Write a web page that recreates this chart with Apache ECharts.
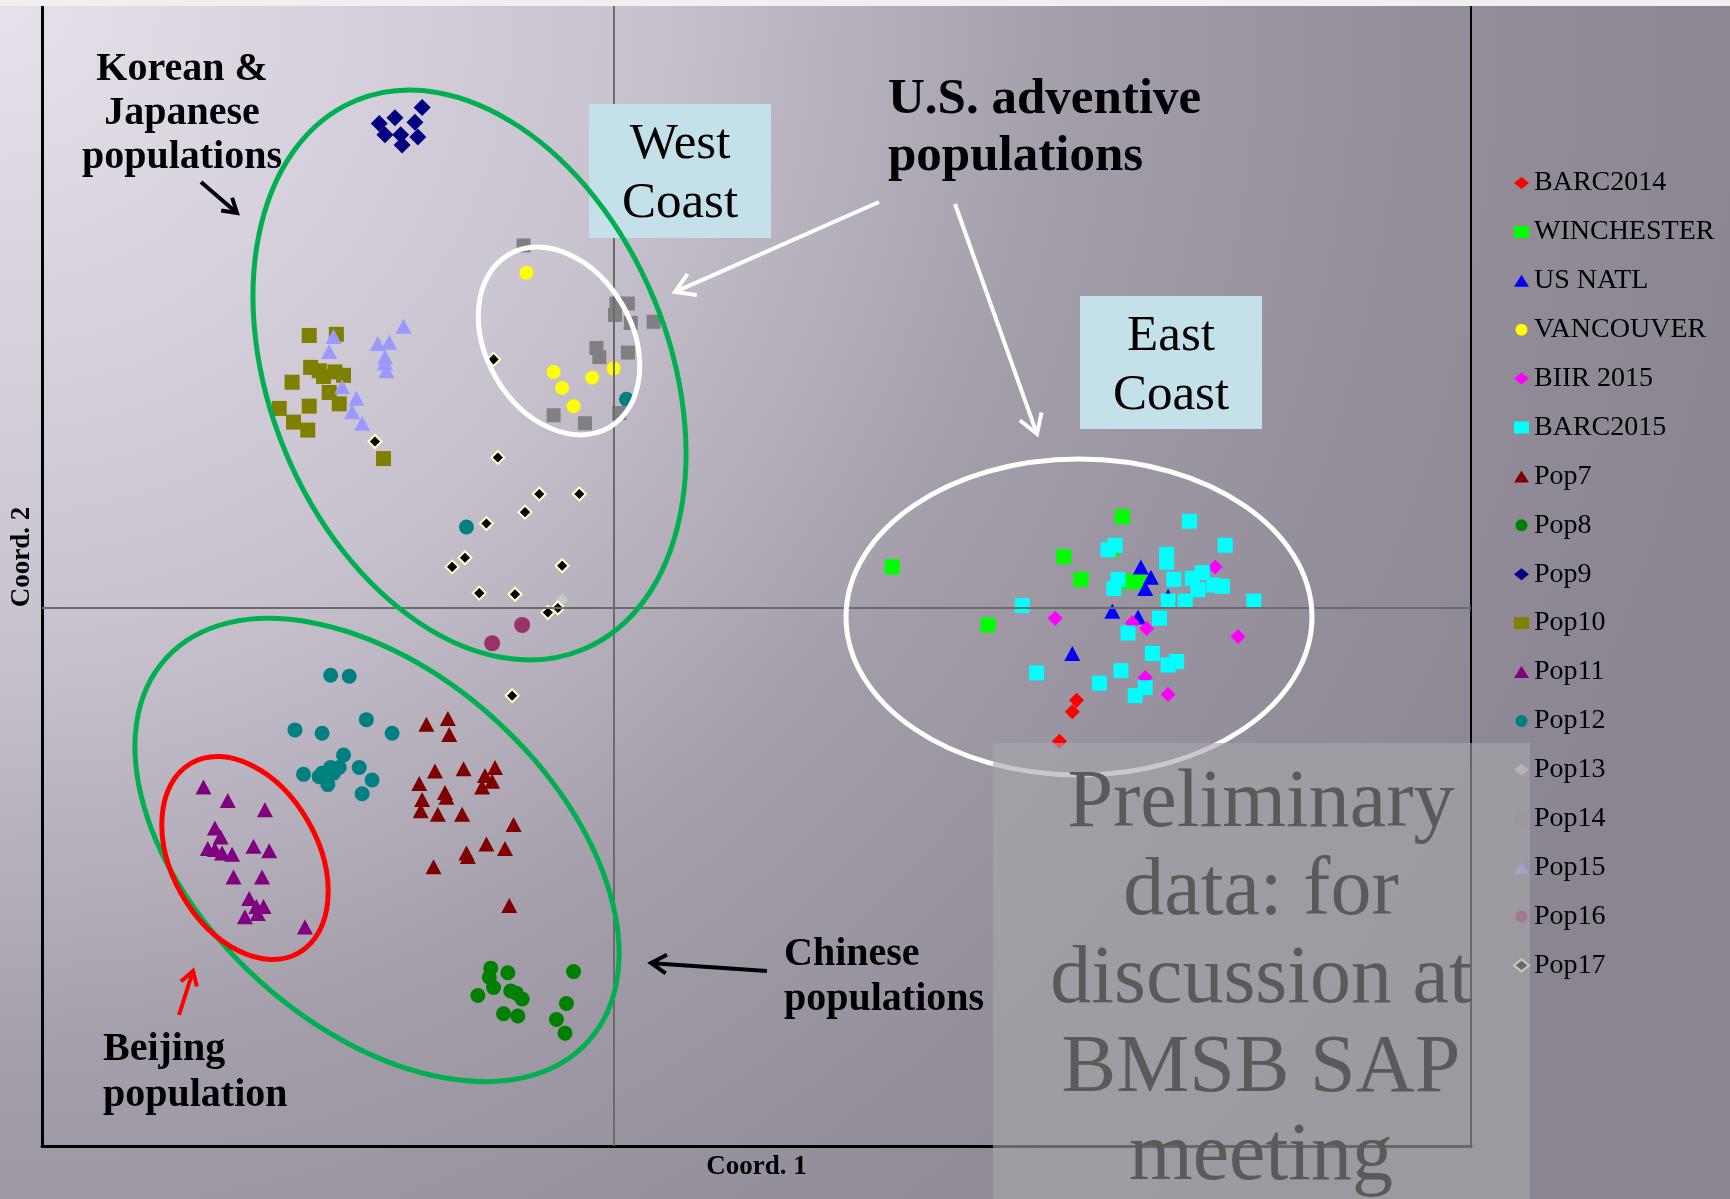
<!DOCTYPE html>
<html>
<head>
<meta charset="utf-8">
<script src="https://cdn.jsdelivr.net/npm/echarts@6/dist/echarts.min.js"></script>
<style>
  html, body { margin: 0; padding: 0; background: #ffffff; }
  #chart { width: 1730px; height: 1199px; }
</style>
</head>
<body>
<div id="chart"></div>
<script>
// PCoA scores per population: [Coord. 1, Coord. 2]
const BARC2014 = [[0.324,-0.081],[0.321,-0.091],[0.312,-0.117]];
const WINCHESTER = [[0.195,0.036],[0.315,0.045],[0.327,0.025],[0.262,-0.015],[0.356,0.080],[0.348,0.051],[0.360,0.023],[0.367,0.023]];
const US_NATL = [[0.369,0.036],[0.376,0.027],[0.372,0.017],[0.349,-0.003],[0.367,-0.008],[0.388,0.010],[0.321,-0.040]];
const VANCOUVER = [[-0.061,0.294],[-0.042,0.207],[-0.036,0.193],[-0.028,0.177],[-0.015,0.202],[0.000,0.210]];
const BIIR_2015 = [[0.421,0.036],[0.309,-0.009],[0.363,-0.013],[0.373,-0.018],[0.437,-0.025],[0.372,-0.061],[0.388,-0.076]];
const BARC2015 = [[0.403,0.076],[0.428,0.055],[0.351,0.055],[0.346,0.051],[0.387,0.047],[0.387,0.040],[0.392,0.025],[0.405,0.026],[0.412,0.031],[0.420,0.020],[0.426,0.019],[0.409,0.016],[0.353,0.025],[0.350,0.017],[0.388,0.006],[0.400,0.006],[0.448,0.006],[0.286,0.002],[0.382,-0.009],[0.360,-0.022],[0.377,-0.040],[0.388,-0.050],[0.394,-0.047],[0.296,-0.057],[0.355,-0.055],[0.340,-0.066],[0.372,-0.070],[0.365,-0.077]];
const POP7 = [[-0.131,-0.102],[-0.116,-0.097],[-0.115,-0.111],[-0.125,-0.143],[-0.105,-0.141],[-0.090,-0.147],[-0.083,-0.140],[-0.085,-0.152],[-0.092,-0.157],[-0.136,-0.154],[-0.118,-0.162],[-0.117,-0.166],[-0.134,-0.168],[-0.135,-0.178],[-0.123,-0.181],[-0.106,-0.181],[-0.070,-0.190],[-0.089,-0.207],[-0.076,-0.211],[-0.103,-0.215],[-0.102,-0.218],[-0.126,-0.227],[-0.073,-0.261]];
const POP8 = [[-0.086,-0.316],[-0.087,-0.324],[-0.084,-0.333],[-0.074,-0.320],[-0.095,-0.340],[-0.072,-0.336],[-0.068,-0.338],[-0.064,-0.343],[-0.077,-0.356],[-0.067,-0.358],[-0.028,-0.319],[-0.033,-0.347],[-0.040,-0.361],[-0.034,-0.373]];
const POP9 = [[-0.134,0.439],[-0.153,0.430],[-0.164,0.425],[-0.139,0.426],[-0.160,0.415],[-0.149,0.415],[-0.137,0.413],[-0.148,0.406]];
const POP10 = [[-0.213,0.239],[-0.194,0.240],[-0.212,0.211],[-0.206,0.208],[-0.203,0.203],[-0.195,0.207],[-0.189,0.204],[-0.225,0.198],[-0.199,0.189],[-0.192,0.179],[-0.213,0.177],[-0.234,0.175],[-0.224,0.163],[-0.214,0.156],[-0.161,0.131]];
const POP11 = [[-0.287,-0.157],[-0.270,-0.169],[-0.244,-0.177],[-0.279,-0.193],[-0.275,-0.201],[-0.284,-0.211],[-0.279,-0.212],[-0.274,-0.215],[-0.267,-0.216],[-0.252,-0.209],[-0.241,-0.213],[-0.266,-0.236],[-0.246,-0.236],[-0.255,-0.255],[-0.250,-0.262],[-0.245,-0.262],[-0.258,-0.271],[-0.249,-0.268],[-0.216,-0.280]];
const POP12 = [[0.009,0.183],[-0.103,0.071],[-0.198,-0.059],[-0.185,-0.060],[-0.223,-0.107],[-0.204,-0.110],[-0.173,-0.098],[-0.155,-0.110],[-0.189,-0.129],[-0.217,-0.146],[-0.204,-0.145],[-0.198,-0.140],[-0.192,-0.140],[-0.200,-0.155],[-0.178,-0.140],[-0.169,-0.151],[-0.176,-0.163],[-0.206,-0.148],[-0.196,-0.145]];
const POP13 = [[-0.036,0.007]];
const POP14 = [[-0.063,0.318],[0.002,0.267],[0.010,0.267],[0.001,0.257],[0.012,0.250],[0.028,0.251],[-0.012,0.228],[-0.010,0.220],[0.010,0.224],[-0.042,0.169],[-0.020,0.162],[0.004,0.171]];
const POP15 = [[-0.196,0.238],[-0.199,0.225],[-0.147,0.247],[-0.165,0.232],[-0.157,0.233],[-0.160,0.220],[-0.160,0.215],[-0.159,0.208],[-0.190,0.194],[-0.180,0.184],[-0.183,0.172],[-0.176,0.162]];
const POP16 = [[-0.064,-0.015],[-0.085,-0.031]];
const POP17 = [[-0.084,0.218],[-0.167,0.146],[-0.081,0.132],[-0.052,0.100],[-0.024,0.100],[-0.062,0.084],[-0.089,0.074],[-0.104,0.044],[-0.113,0.036],[-0.036,0.037],[-0.094,0.013],[-0.069,0.012],[-0.039,0.000],[-0.046,-0.004],[-0.071,-0.077]];

// Axis extents (no tick labels are drawn)
const X_RANGE = [-0.4, 0.6];
const Y_RANGE = [-0.472, 0.528];

const FONT = '"Liberation Serif", "Times New Roman", serif';

// name, data, symbol, fill, size, optional border
const SERIES_DEFS = [
  ['BARC2014', BARC2014, 'diamond', '#ff0000', 15],
  ['WINCHESTER', WINCHESTER, 'rect', '#00ff00', 15],
  ['US NATL', US_NATL, 'triangle', '#0000ff', [16, 15]],
  ['VANCOUVER', VANCOUVER, 'circle', '#ffff00', 14],
  ['BIIR 2015', BIIR_2015, 'diamond', '#ff00ff', 15],
  ['BARC2015', BARC2015, 'rect', '#00ffff', 15],
  ['Pop7', POP7, 'triangle', '#800000', [16, 15]],
  ['Pop8', POP8, 'circle', '#008000', 15],
  ['Pop9', POP9, 'diamond', '#000080', 17],
  ['Pop10', POP10, 'rect', '#808000', 15],
  ['Pop11', POP11, 'triangle', '#800080', [16, 15]],
  ['Pop12', POP12, 'circle', '#008080', 15],
  ['Pop13', POP13, 'diamond', '#c8c8c8', 13],
  ['Pop14', POP14, 'rect', '#808080', 14],
  ['Pop15', POP15, 'triangle', '#9999ff', [16, 15]],
  ['Pop16', POP16, 'circle', '#993366', 16],
  ['Pop17', POP17, 'diamond', '#000000', 13, '#ffffcc']
];

const series = SERIES_DEFS.map(function (d, i) {
  const s = {
    name: d[0],
    type: 'scatter',
    data: d[1],
    symbol: d[2],
    symbolSize: d[4],
    itemStyle: { color: d[3], opacity: 1 },
    emphasis: { disabled: true },
    animation: false
  };
  if (d[5]) {
    s.itemStyle.borderColor = d[5];
    s.itemStyle.borderWidth = 2;
  }
  if (i === 0) {
    // crosshair through the origin
    s.markLine = {
      silent: true,
      symbol: 'none',
      animation: false,
      label: { show: false },
      lineStyle: { color: '#6b6b6b', width: 2, type: 'solid' },
      data: [{ xAxis: 0 }, { yAxis: 0 }]
    };
  }
  return s;
});

// serif glyphs sit high in their box, so text is nudged down a little
const TEXT_DY = 3.3;

function text(x, y, s, size, weight, color, align, z, rotation) {
  return {
    type: 'text', x: rotation ? x : x, y: rotation ? y : y + TEXT_DY, z: z || 60, rotation: rotation || 0,
    style: {
      text: s, fill: color, fontFamily: FONT, fontSize: size, fontWeight: weight,
      align: align, textAlign: align, verticalAlign: 'middle', textVerticalAlign: 'middle'
    }
  };
}

function arrow(x1, y1, x2, y2, color, w, head) {
  const a = Math.atan2(y2 - y1, x2 - x1);
  const spread = 0.55;
  return [
    { type: 'line', z: 60, shape: { x1: x1, y1: y1, x2: x2 - Math.cos(a) * 2, y2: y2 - Math.sin(a) * 2 },
      style: { stroke: color, lineWidth: w } },
    { type: 'polyline', z: 60,
      shape: { points: [
        [x2 - head * Math.cos(a - spread), y2 - head * Math.sin(a - spread)],
        [x2, y2],
        [x2 - head * Math.cos(a + spread), y2 - head * Math.sin(a + spread)]
      ] },
      style: { stroke: color, lineWidth: w, fill: null, lineJoin: 'miter' } }
  ];
}

function ellipse(cx, cy, rx, ry, rot, color) {
  return {
    type: 'ellipse', x: cx, y: cy, rotation: rot, z: 50,
    shape: { cx: 0, cy: 0, rx: rx, ry: ry },
    style: { stroke: color, lineWidth: 5, fill: null }
  };
}

const graphics = [
  { type: 'rect', z: 100, shape: { x: 0, y: 0, width: 1730, height: 6 }, style: { fill: '#f0f0f0' } },

  // region boxes
  { type: 'rect', z: 40, shape: { x: 589, y: 104, width: 182, height: 134 }, style: { fill: '#c4e0e8' } },
  { type: 'rect', z: 40, shape: { x: 1080, y: 296, width: 182, height: 133 }, style: { fill: '#c4e0e8' } },
  text(680, 141, 'West', 51, 'normal', '#000', 'center'),
  text(680, 200, 'Coast', 51, 'normal', '#000', 'center'),
  text(1171, 333, 'East', 51, 'normal', '#000', 'center'),
  text(1171, 392, 'Coast', 51, 'normal', '#000', 'center'),

  // cluster outlines
  ellipse(469.5, 375, 199.5, 297, 0.392, '#00b050'),
  ellipse(377, 850, 285, 176, -0.736, '#00b050'),
  ellipse(559, 341, 73, 100, 0.527, '#ffffff'),
  ellipse(1079, 617, 233, 158, 0, '#ffffff'),
  ellipse(245, 858, 73, 109, 0.515, '#ff0000'),

  // annotations
  text(182, 66, 'Korean &', 40, 'bold', '#000', 'center'),
  text(182, 110, 'Japanese', 40, 'bold', '#000', 'center'),
  text(182, 154, 'populations', 40, 'bold', '#000', 'center'),
  text(888, 97, 'U.S. adventive', 51, 'bold', '#000', 'left'),
  text(888, 154, 'populations', 51, 'bold', '#000', 'left'),
  text(784, 951, 'Chinese', 40, 'bold', '#000', 'left'),
  text(784, 996, 'populations', 40, 'bold', '#000', 'left'),
  text(103, 1046, 'Beijing', 40, 'bold', '#000', 'left'),
  text(103, 1092, 'population', 40, 'bold', '#000', 'left'),
  text(22, 557, 'Coord. 2', 27, 'bold', '#000', 'center', 60, Math.PI / 2)
]
  .concat(arrow(201, 182, 237, 213, '#000000', 4, 16))
  .concat(arrow(879, 202, 675, 292, '#ffffff', 4, 22))
  .concat(arrow(955, 204, 1037, 434, '#ffffff', 4, 22))
  .concat(arrow(767, 971, 651, 963, '#000000', 4, 18))
  .concat(arrow(179, 1015, 193, 971, '#ff0000', 4, 16))
  .concat([
    // watermark panel
    { type: 'rect', z: 100, shape: { x: 993, y: 743, width: 537, height: 456 }, style: { fill: 'rgba(168,167,170,0.62)' } },
    text(1261, 801, 'Preliminary', 82, 'normal', '#5a5a5a', 'center', 101),
    text(1261, 889, 'data: for', 82, 'normal', '#5a5a5a', 'center', 101),
    text(1261, 977, 'discussion at', 82, 'normal', '#5a5a5a', 'center', 101),
    text(1261, 1066, 'BMSB SAP', 82, 'normal', '#5a5a5a', 'center', 101),
    text(1261, 1154, 'meeting', 82, 'normal', '#5a5a5a', 'center', 101)
  ]);

const chart = echarts.init(document.getElementById('chart'), null, { renderer: 'canvas' });

chart.setOption({
  animation: false,
  backgroundColor: new echarts.graphic.RadialGradient(0, 0, 1.5, [
    { offset: 0, color: '#e6e1eb' },
    { offset: 0.35, color: '#c9c3cf' },
    { offset: 0.6, color: '#a39ca9' },
    { offset: 0.8, color: '#948d9a' },
    { offset: 1, color: '#8b8491' }
  ]),
  grid: { left: 42, top: 6, width: 1429, height: 1140, containLabel: false },
  xAxis: {
    type: 'value', min: X_RANGE[0], max: X_RANGE[1],
    axisLine: { show: true, onZero: false, lineStyle: { color: '#000', width: 3 } },
    axisTick: { show: false }, axisLabel: { show: false }, splitLine: { show: false },
    name: 'Coord. 1', nameLocation: 'middle', nameGap: 8,
    nameTextStyle: { fontFamily: FONT, fontSize: 27, fontWeight: 'bold', color: '#000', verticalAlign: 'top' }
  },
  yAxis: [
    {
      type: 'value', min: Y_RANGE[0], max: Y_RANGE[1],
      axisLine: { show: true, onZero: false, lineStyle: { color: '#000', width: 3 } },
      axisTick: { show: false }, axisLabel: { show: false }, splitLine: { show: false }
    },
    {
      type: 'value', position: 'right', min: Y_RANGE[0], max: Y_RANGE[1],
      axisLine: { show: true, onZero: false, lineStyle: { color: '#000', width: 2 } },
      axisTick: { show: false }, axisLabel: { show: false }, splitLine: { show: false }
    }
  ],
  legend: {
    orient: 'vertical', left: 1513, top: 169, padding: 0,
    itemWidth: 15, itemHeight: 12, itemGap: 20.9,
    selectedMode: false,
    textStyle: { fontFamily: FONT, fontSize: 28, color: '#000' }
  },
  tooltip: { show: false },
  series: series,
  graphic: { elements: graphics }
});
</script>
</body>
</html>
